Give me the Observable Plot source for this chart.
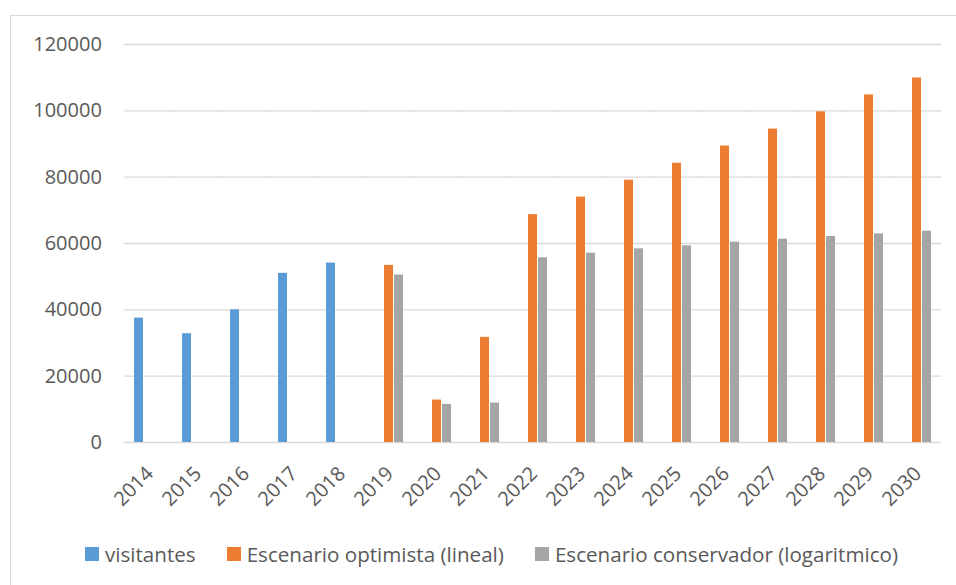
<!DOCTYPE html>
<html>
<head>
<meta charset="utf-8">
<script src="https://cdn.jsdelivr.net/npm/d3@7"></script>
<script src="https://cdn.jsdelivr.net/npm/@observablehq/plot@0.6"></script>
<style>
  html, body { margin: 0; padding: 0; background: #fff; overflow: hidden; }
  #wrap { position: relative; width: 956px; height: 585px; font-family: "Open Sans", sans-serif; }
  #frame { position: absolute; left: 10px; top: 15px; width: 1000px; height: 1000px; border: 1px solid #d9d9d9; }
  #chart { position: absolute; left: 0; top: 0; }
  #legend { position: absolute; left: 85px; top: 540px; display: flex; align-items: center; font-size: 20.6px; color: #595959; white-space: nowrap; }
  .item { display: flex; align-items: center; margin-right: 31px; }
  .sw { width: 14px; height: 14px; margin-right: 6px; }
</style>
</head>
<body>
<div id="wrap">
  <div id="frame"></div>
  <div id="chart"></div>
  <div id="legend"></div>
</div>
<script>
const years = ["2014","2015","2016","2017","2018","2019","2020","2021","2022","2023","2024","2025","2026","2027","2028","2029","2030"];
const seriesNames = ["visitantes", "Escenario optimista (lineal)", "Escenario conservador (logaritmico)"];
const colors = ["#5B9BD5", "#ED7D31", "#A5A5A5"];
const visitantes  = [37500, 32800, 40000, 51000, 54100, null, null, null, null, null, null, null, null, null, null, null, null];
const optimista   = [null, null, null, null, null, 53400, 12800, 31700, 68700, 74000, 79100, 84200, 89400, 94500, 99700, 104800, 109900];
const conservador = [null, null, null, null, null, 50500, 11500, 11900, 55700, 57100, 58400, 59300, 60400, 61300, 62100, 62900, 63700];
const yTicks = [0, 20000, 40000, 60000, 80000, 100000, 120000];

const seriesValues = [visitantes, optimista, conservador];
const data = [];
years.forEach((yr, i) => {
  seriesValues.forEach((vals, s) => {
    if (vals[i] != null) data.push({year: yr, series: seriesNames[s], value: vals[i]});
  });
});

const W = 956, ML = 123, MR = 14;
const padOuter = 0.2, padInner = 0.4;
const step = (W - ML - MR) / (years.length - padInner + 2 * padOuter);
const outerGap = step * padOuter;
const gridInset = -outerGap - 0.5;

const chart = Plot.plot({
  width: W,
  height: 520,
  marginLeft: ML,
  marginRight: MR,
  marginTop: 44,
  marginBottom: 78,
  style: {fontFamily: "'Open Sans', sans-serif", fontSize: "20px", color: "#595959", background: "transparent"},
  fx: {domain: years, paddingInner: padInner, paddingOuter: padOuter, label: null},
  x: {domain: seriesNames, paddingInner: 0.12, paddingOuter: 0, axis: null},
  y: {domain: [0, 120000], label: null},
  color: {domain: seriesNames, range: colors},
  marks: [
    Plot.ruleY(yTicks, {stroke: "#d9d9d9", strokeWidth: 1.3, insetLeft: gridInset, insetRight: gridInset}),
    Plot.barY(data, {fx: "year", x: "series", y: "value", fill: "series"}),
    Plot.axisY(yTicks, {tickSize: 0, tickPadding: 23 + outerGap, tickFormat: d => String(d), label: null, fill: "#595959"}),
    Plot.axisFx({anchor: "bottom", tickSize: 0, tickRotate: -45, dx: 1, dy: 16, label: null, fill: "#595959"})
  ]
});
document.getElementById("chart").appendChild(chart);

const legend = document.getElementById("legend");
seriesNames.forEach((n, i) => {
  const it = document.createElement("div");
  it.className = "item";
  const sw = document.createElement("div");
  sw.className = "sw";
  sw.style.background = colors[i];
  const t = document.createElement("span");
  t.textContent = n;
  it.appendChild(sw);
  it.appendChild(t);
  legend.appendChild(it);
});
</script>
</body>
</html>
